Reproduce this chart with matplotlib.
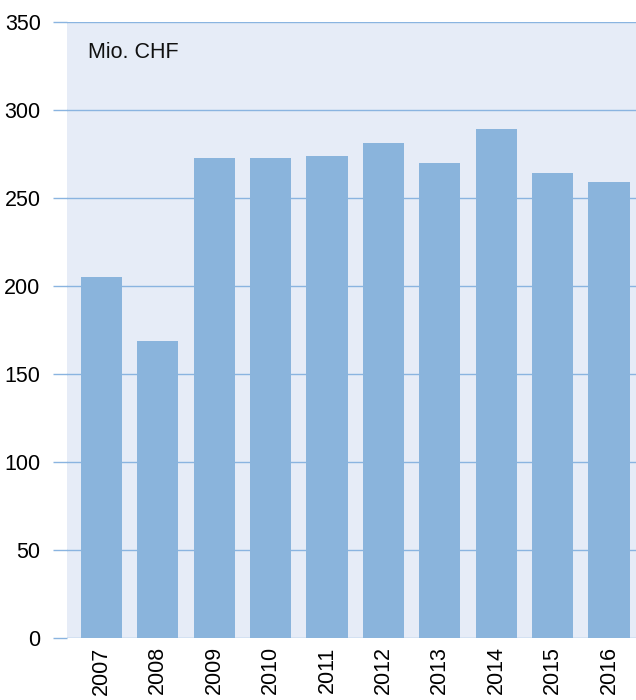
import matplotlib
matplotlib.use("Agg")
import matplotlib.pyplot as plt

years = ["2007", "2008", "2009", "2010", "2011", "2012", "2013", "2014", "2015", "2016"]
values = [205, 169, 273, 273, 274, 281, 270, 289, 264, 259]
yticks = [0, 50, 100, 150, 200, 250, 300, 350]

plt.rcParams['font.family'] = ['Liberation Sans', 'DejaVu Sans']

fig = plt.figure(figsize=(6.36, 7.0), dpi=100)
ax = fig.add_axes([67/636, 62/700, (636-67)/636, (638-22)/700])
ax.set_facecolor('#e6ecf7')
grid_c = '#8ab4e0'
bar_c = '#8ab4dc'

x = list(range(len(years)))
ax.bar(x, values, width=0.73, color=bar_c, zorder=3)
for t in yticks:
    ax.axhline(t, color=grid_c, lw=1.0, zorder=1)

ax.set_xlim(-0.61, 9.48)
ax.set_ylim(0, 350)
ax.set_yticks(yticks)
ax.set_yticklabels([str(t) for t in yticks], fontsize=15.5)
ax.set_xticks(x)
ax.set_xticklabels(years, rotation=90, fontsize=15.5, va='top')
ax.tick_params(axis='y', length=10, color=grid_c, width=1.0, pad=9)
ax.tick_params(axis='x', length=0, pad=6)
for s in ax.spines.values():
    s.set_visible(False)

ax.text(88/636, 1 - 52/700, "Mio. CHF", transform=fig.transFigure, fontsize=15.5,
        ha='left', va='center', color='#111111')

fig.savefig("out.png", dpi=100)
